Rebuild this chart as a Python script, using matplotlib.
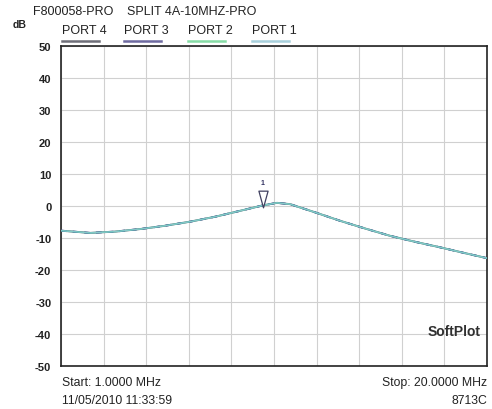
import matplotlib
matplotlib.use("Agg")
import matplotlib.pyplot as plt
from matplotlib.path import Path
import numpy as np

plt.rcParams['font.family'] = ['Liberation Sans', 'DejaVu Sans']

freq_mhz = [1.0, 2.29, 3.4, 4.52, 5.6, 6.75, 7.9, 8.98, 10.0, 10.63, 11.21, 12.3, 13.44, 14.55, 15.67, 16.8, 17.9, 19.0, 20.0]
resp_db = [-7.7, -8.4, -8.0, -7.2, -6.2, -4.9, -3.3, -1.5, 0.2, 1.0, 0.6, -1.9, -4.6, -7.0, -9.3, -11.2, -12.9, -14.7, -16.3]
ports = ["PORT 4", "PORT 3", "PORT 2", "PORT 1"]
port_colors = ["#6e6e78", "#6e6aa0", "#86dca6", "#a8d0dc"]
y_ticks = [50, 40, 30, 20, 10, 0, -10, -20, -30, -40, -50]
marker_freq = 10.0
marker_db = 0.0

fig = plt.figure(figsize=(4.92, 4.10), dpi=100)
ax = fig.add_axes([0.124, 0.105, 0.866, 0.78])
ax.set_xlim(1.0, 20.0)
ax.set_ylim(-50, 50)
ax.set_yticks(y_ticks)
ax.set_yticklabels([str(v) for v in y_ticks], fontsize=8, fontweight='bold', color='#222222')
ax.set_xticks(np.linspace(1.0, 20.0, 11))
ax.set_xticklabels([])
ax.tick_params(length=0, pad=7)
ax.grid(True, color='#d0d0d0', linewidth=0.8)
for s in ax.spines.values():
    s.set_linewidth(1.2)
    s.set_color('#222222')

ax.plot(freq_mhz, resp_db, color=port_colors[0], lw=1.4, zorder=3)
ax.plot(freq_mhz, resp_db, color='#3c3c90', lw=1.4, zorder=4, dashes=(3, 3))
ax.plot(freq_mhz, resp_db, color='#58c0b0', lw=1.2, zorder=5)
ax.plot(freq_mhz, resp_db, color=port_colors[3], lw=0.8, zorder=6, alpha=0.6)

tri = Path([(-0.55, 1.0), (0.55, 1.0), (0.0, -1.0), (-0.55, 1.0)],
           [Path.MOVETO, Path.LINETO, Path.LINETO, Path.CLOSEPOLY])
ax.plot([marker_freq], [marker_db + 2.3], marker=tri, markersize=12, markerfacecolor='white',
        markeredgecolor='#404060', markeredgewidth=0.9, zorder=7, clip_on=False)
ax.text(marker_freq, marker_db + 7.5, "1", fontsize=5, fontweight='bold', color='#303060', ha='center', va='center')

ax.text(0.985, 0.11, "SoftPlot", transform=ax.transAxes, fontsize=10, fontweight='bold', color='#303030', ha='right', va='center', zorder=8)

fig.text(33/492, 1 - 12/410, "F800058-PRO", fontsize=9, ha='left', va='center', color='#222222')
fig.text(127/492, 1 - 12/410, "SPLIT 4A-10MHZ-PRO", fontsize=9, ha='left', va='center', color='#222222')
fig.text(13/492, 1 - 25/410, "dB", fontsize=7.5, ha='left', va='center', color='#222222', fontweight='bold')

leg_x = [62, 124, 188, 252]
for lx, name, c in zip(leg_x, ports, port_colors):
    fig.text(lx/492, 1 - 31/410, name, fontsize=9, ha='left', va='center', color='#222222')
    fig.add_artist(plt.Line2D([(lx)/492, (lx + 37)/492], [1 - 42/410, 1 - 42/410], color=c, lw=1.8))

fig.text(62/492, 1 - 383/410, "Start: 1.0000 MHz", fontsize=8.8, ha='left', va='center', color='#222222')
fig.text(62/492, 1 - 401/410, "11/05/2010 11:33:59", fontsize=8.8, ha='left', va='center', color='#222222')
fig.text(487/492, 1 - 383/410, "Stop: 20.0000 MHz", fontsize=8.8, ha='right', va='center', color='#222222')
fig.text(487/492, 1 - 401/410, "8713C", fontsize=8.8, ha='right', va='center', color='#222222')

fig.savefig("out.png", dpi=100)
